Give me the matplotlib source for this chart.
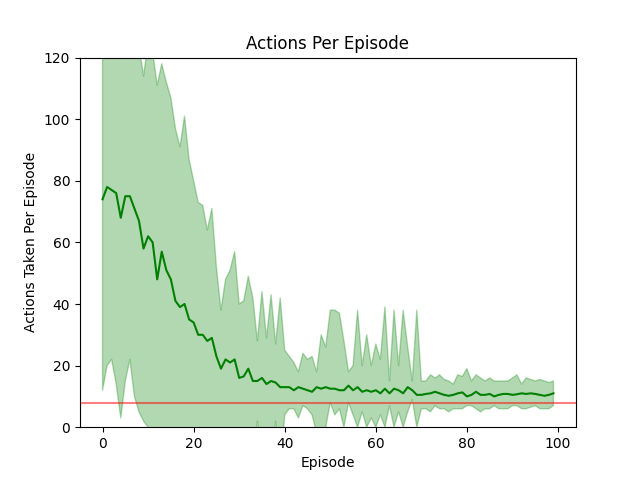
import numpy as np
import matplotlib
matplotlib.use("Agg")
from matplotlib import pyplot as plt

episodes = np.arange(100)

mean_actions = [74, 78, 77, 76, 68, 75, 75, 71, 67, 58,
                62, 60, 48, 57, 51, 48, 41, 39, 40, 35,
                34, 30, 30, 28, 29, 23, 19, 22, 21, 22,
                16, 16.5, 19, 15, 15, 16, 14, 15, 14.5, 13,
                13, 13, 12, 13, 12.5, 12, 11.5, 13, 12.5, 13,
                12.5, 12.5, 12, 12, 13.5, 12, 13, 11.5, 12, 11.5,
                12, 11, 12.5, 11, 12.5, 12, 11, 13, 12, 10.5,
                10.5, 10.8, 11, 11.5, 11, 10.5, 10.2, 10.5, 11, 11.3,
                10, 10.5, 11.5, 10.5, 10.5, 10.8, 10, 10.5, 10.8, 10.8,
                10.5, 10.7, 11, 10.8, 11, 10.8, 10.5, 10.2, 10.5, 11]

upper = [130, 135, 140, 135, 130, 132, 128, 126, 124, 114,
         125, 122, 111, 118, 112, 107, 97, 91, 101, 87,
         80, 73, 72, 64, 71, 52, 38, 48, 51, 57,
         40, 41, 49, 42, 28, 44, 29, 43, 27, 42,
         25, 23, 21, 18, 24, 22, 23, 18, 30, 26,
         38, 38, 37, 28, 18, 20, 38, 20, 30, 20,
         27, 22, 39, 15, 38, 20, 38, 26, 15, 38,
         15, 15, 17, 16, 17, 15.5, 15, 14, 17, 16.5,
         19, 15, 17, 16, 15, 16, 15, 15, 15, 15,
         16, 17, 14, 16, 15.5, 15, 15.5, 15, 14.5, 15]

lower = [12, 20, 22, 14, 3, 15, 22, 10, 5, 2,
         0, -2, -10, -2, -8, -10, -15, -13, -20, -17,
         -12, -12, -12, -8, -13, -5, 0, -4, -9, -13,
         -8, -8, -10, -12, 2, -12, -1, -13, 2, -16,
         4, 6, 6, 3, 7, 6, 4, -2, -5, 0,
         8, 4, 6, 0, 8, 4, 0, 5, 0, 3,
         0, 4, 0, 7, 0, 5, 0, 5, 9, 0,
         6, 6, 5, 7, 6, 6, 5, 6, 6, 6,
         7, 7, 6, 5, 6, 6, 7, 6, 6, 6,
         7, 7, 6, 6, 6.5, 7, 6, 6, 6, 7]

target = 8

fig, ax = plt.subplots(figsize=(6.4, 4.8), dpi=100)
ax.fill_between(episodes, lower, upper, color='green', alpha=0.3)
ax.plot(episodes, mean_actions, color='green')
ax.axhline(target, color='red', alpha=0.5)
ax.set_ylim(0, 120)
ax.set_title('Actions Per Episode')
ax.set_xlabel('Episode')
ax.set_ylabel('Actions Taken Per Episode')
fig.savefig('out.png')
